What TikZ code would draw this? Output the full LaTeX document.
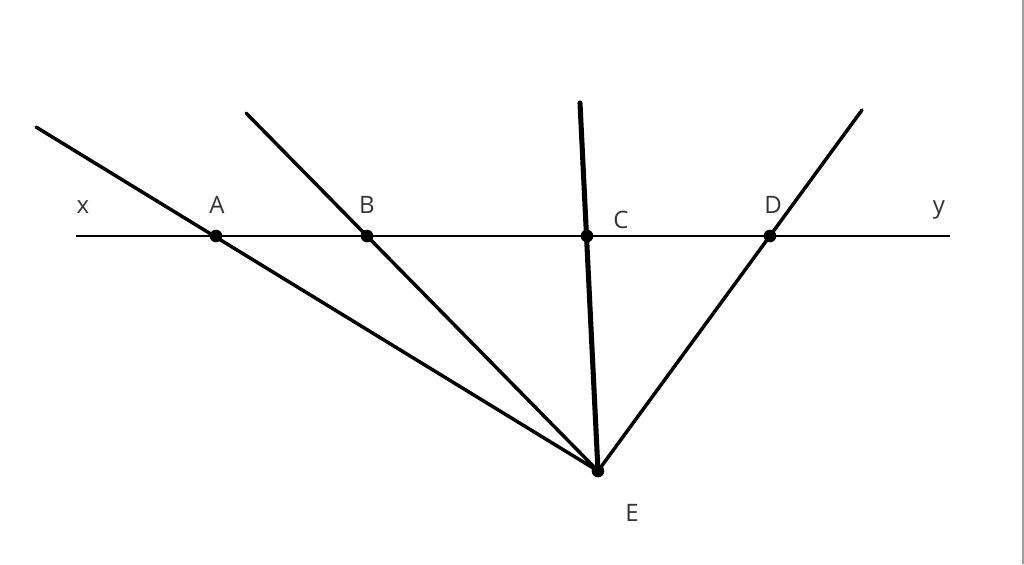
\documentclass[tikz,border=0pt]{standalone}
\usepackage{fontspec}
\setmainfont{Open Sans}
\begin{document}
\begin{tikzpicture}[x=0.75pt,y=-0.75pt,
  ray/.style={line width=2.6pt, line cap=round},
  thickray/.style={line width=3.8pt, line cap=round},
  axis/.style={line width=1.2pt},
  pt/.style={circle, fill=black, inner sep=0pt, minimum size=9.5pt},
  lbl/.style={font=\fontsize{18pt}{20pt}\selectfont, text=black!80, inner sep=0pt, anchor=base}]
\useasboundingbox (0,0) rectangle (1024,564);
\fill[white] (0,0) rectangle (1024,564);
\fill[black!38] (1022,0) rectangle (1024,564);
% points
\coordinate (X) at (76,236);
\coordinate (Y) at (950,236);
\coordinate (Ea) at (598,471);
\coordinate (Aa) at (216,236);
\coordinate (Ba) at (367,236);
\coordinate (Ca) at (587,236);
\coordinate (Da) at (770,236);
\coordinate (TA) at (36,127);
\coordinate (TB) at (246,113);
\coordinate (TC) at (580,103);
\coordinate (TD) at (862,110);
% lines
\draw[axis] (X) -- (Y);
\draw[ray] (Ea) -- (TA);
\draw[ray] (Ea) -- (TB);
\draw[thickray] (Ea) -- (TC);
\draw[ray] (Ea) -- (TD);
% dots
\node[pt] (A) at (Aa) {};
\node[pt] (B) at (Ba) {};
\node[pt] (C) at (Ca) {};
\node[pt] (D) at (Da) {};
\node[pt] (E) at (Ea) {};
% labels
\node[lbl] (lx) at (83,213) {x};
\node[lbl] (lA) at (217,213) {A};
\node[lbl] (lB) at (367,213) {B};
\node[lbl] (lC) at (621,228) {C};
\node[lbl] (lD) at (773,213) {D};
\node[lbl] (ly) at (939,213) {y};
\node[lbl] (lE) at (632,521) {E};
\end{tikzpicture}
\end{document}
